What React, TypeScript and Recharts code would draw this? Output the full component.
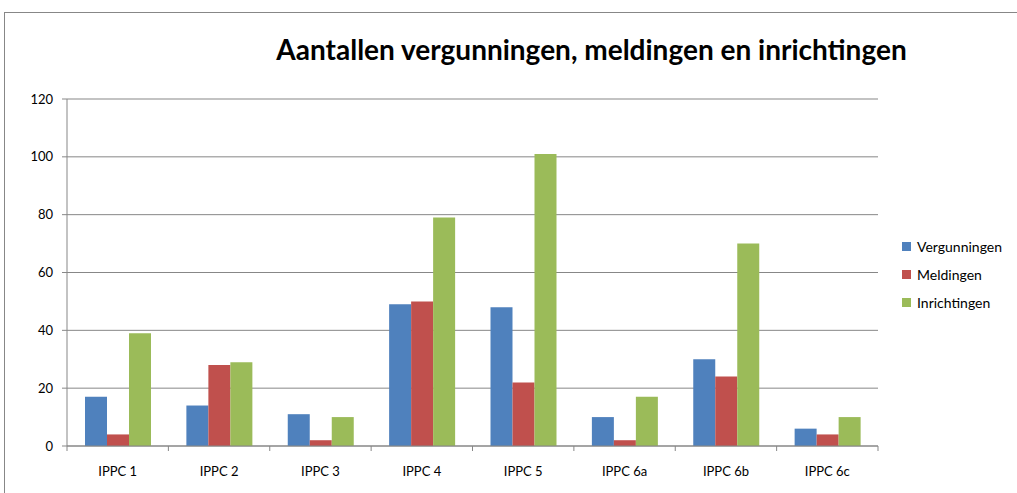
import React from "react";
import { BarChart, Bar, XAxis, YAxis, CartesianGrid } from "recharts";

const categories = ["IPPC 1", "IPPC 2", "IPPC 3", "IPPC 4", "IPPC 5", "IPPC 6a", "IPPC 6b", "IPPC 6c"];
const vergunningen = [17, 14, 11, 49, 48, 10, 30, 6];
const meldingen = [4, 28, 2, 50, 22, 2, 24, 4];
const inrichtingen = [39, 29, 10, 79, 101, 17, 70, 10];
const yTicks = [0, 20, 40, 60, 80, 100, 120];

const SERIES = [
  { key: "Vergunningen", color: "#4F81BD" },
  { key: "Meldingen", color: "#C0504D" },
  { key: "Inrichtingen", color: "#9BBB59" },
];

const data = categories.map((c, i) => ({
  name: c,
  Vergunningen: vergunningen[i],
  Meldingen: meldingen[i],
  Inrichtingen: inrichtingen[i],
}));

const FONT = "Lato, 'Open Sans', sans-serif";
const GRID = "#878787";
const PLOT_LEFT = 67;
const PLOT_RIGHT = 878;
const BAND = (PLOT_RIGHT - PLOT_LEFT) / categories.length;

// tick labels plus the boundary tick marks Excel draws between categories
const CategoryTick = (props: any) => {
  const { x, y, payload, index } = props;
  const left = x - BAND / 2;
  return (
    <g>
      <line x1={left} y1={y - 8} x2={left} y2={y - 3} stroke={GRID} />
      {index === categories.length - 1 && (
        <line x1={left + BAND} y1={y - 8} x2={left + BAND} y2={y - 3} stroke={GRID} />
      )}
      <text x={x} y={y + 22} textAnchor="middle" fontSize={13} fill="#000" fontFamily={FONT}>
        {payload.value}
      </text>
    </g>
  );
};

export default function App() {
  return (
    <div style={{ position: "absolute", left: 0, top: 0, width: 1017, height: 493, background: "#fff", overflow: "hidden" }}>
      <div
        style={{
          position: "absolute",
          left: 4,
          top: 12,
          width: 1100,
          height: 600,
          border: `1px solid ${GRID}`,
        }}
      />
      <div
        style={{
          position: "absolute",
          left: 0,
          top: 32,
          width: 1183,
          textAlign: "center",
          fontFamily: FONT,
          fontWeight: 700,
          fontSize: 28,
          lineHeight: "34px",
          color: "#000",
        }}
      >
        Aantallen vergunningen, meldingen en inrichtingen
      </div>
      <div style={{ position: "absolute", left: 0, top: 0 }}>
        <BarChart
          width={1017}
          height={493}
          data={data}
          margin={{ top: 99, right: 1017 - PLOT_RIGHT, left: 7, bottom: 17 }}
          barCategoryGap={18}
          barGap={0}
        >
          <CartesianGrid vertical={false} stroke={GRID} />
          <XAxis
            dataKey="name"
            height={30}
            axisLine={{ stroke: GRID }}
            tickLine={false}
            interval={0}
            tick={<CategoryTick />}
          />
          <YAxis
            width={60}
            domain={[0, 120]}
            ticks={yTicks}
            interval={0}
            axisLine={{ stroke: GRID }}
            tickLine={{ stroke: GRID }}
            tickSize={5}
            tickMargin={9}
            tick={{ fontSize: 13, fill: "#000", fontFamily: FONT }}
          />
          {SERIES.map((s) => (
            <Bar key={s.key} dataKey={s.key} fill={s.color} isAnimationActive={false} />
          ))}
        </BarChart>
      </div>
      <div style={{ position: "absolute", left: 902, top: 232, fontFamily: FONT, fontSize: 14, color: "#000" }}>
        {SERIES.map((s) => (
          <div key={s.key} style={{ display: "flex", alignItems: "center", height: 28 }}>
            <span style={{ width: 9, height: 9, background: s.color, marginRight: 6, display: "inline-block" }} />
            {s.key}
          </div>
        ))}
      </div>
    </div>
  );
}
